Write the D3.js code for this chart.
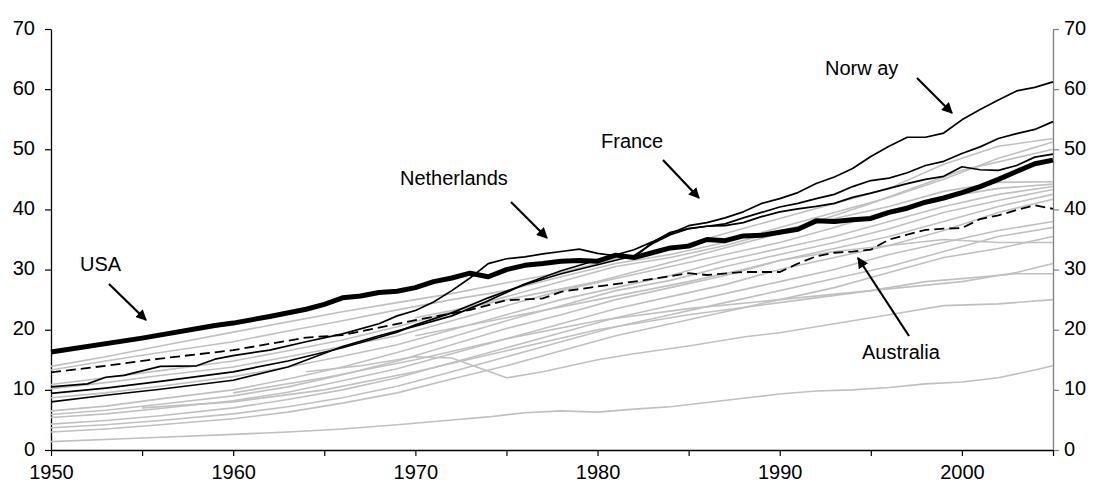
<!DOCTYPE html>
<html><head><meta charset="utf-8">
<script src="https://cdn.jsdelivr.net/npm/d3@7"></script>
<style>
body{margin:0;background:#fff}
text{font-family:"Liberation Sans",Arial,sans-serif}
</style>
</head><body>
<svg id="c" width="1094" height="489"></svg>
<script>
// ---- data (year, value) ----
const usa = [[1950,16.3],[1955,18.6],[1959,20.7],[1960,21.1],[1962,22.2],[1964,23.4],[1965,24.2],[1966,25.3],[1967,25.6],[1968,26.2],[1969,26.4],[1970,27],[1971,28],[1972,28.6],[1973,29.4],[1974,28.8],[1975,30],[1976,30.7],[1977,31],[1978,31.4],[1979,31.5],[1980,31.4],[1981,32.4],[1982,32],[1983,32.8],[1984,33.6],[1985,33.9],[1986,35],[1987,34.8],[1988,35.6],[1989,35.7],[1990,36.2],[1991,36.7],[1992,38.1],[1993,38],[1994,38.3],[1995,38.5],[1996,39.5],[1997,40.2],[1998,41.2],[1999,41.9],[2000,42.8],[2001,43.8],[2002,45],[2003,46.3],[2004,47.6],[2005,48.2]];
const netherlands = [[1950,10.5],[1952,11],[1953,12.1],[1954,12.4],[1956,13.9],[1958,14.0],[1959,15.1],[1960,15.7],[1962,16.6],[1964,18.0],[1966,19.3],[1968,21],[1969,22.3],[1970,23.2],[1971,24.6],[1972,26.5],[1973,28.6],[1974,31],[1975,31.8],[1976,32.1],[1977,32.6],[1978,33],[1979,33.4],[1980,32.7],[1981,32.3],[1982,32.0],[1983,34.5],[1984,36.2],[1985,36.8],[1986,37.2],[1987,37.3],[1988,37.8],[1989,38.8],[1990,39.6],[1991,40.1],[1992,40.5],[1993,41],[1994,42],[1995,42.7],[1996,43.5],[1997,44.3],[1998,45],[1999,45.5],[2000,47.1],[2001,46.6],[2002,46.5],[2003,47.3],[2004,48.7],[2005,49.2]];
const france = [[1950,9.4],[1953,10.3],[1956,11.4],[1960,13],[1963,14.8],[1966,17],[1969,19.6],[1970,20.8],[1972,22.8],[1974,25.3],[1976,27.5],[1978,29.3],[1980,30.8],[1982,32.3],[1983,34.3],[1984,35.8],[1985,36.8],[1986,37.2],[1987,37.6],[1988,38.6],[1989,39.5],[1990,40.4],[1991,41],[1992,41.8],[1993,42.5],[1994,43.8],[1995,44.8],[1996,45.2],[1997,46.1],[1998,47.3],[1999,48],[2000,49.3],[2001,50.4],[2002,51.8],[2003,52.6],[2004,53.3],[2005,54.6]];
const norway = [[1950,8.0],[1953,9.1],[1956,10.1],[1960,11.6],[1963,13.8],[1966,17.2],[1968,19],[1970,20.6],[1972,22.3],[1974,24.8],[1976,27.6],[1978,29.8],[1980,31.6],[1982,33.3],[1983,34.6],[1984,36],[1985,37.3],[1986,37.8],[1987,38.6],[1988,39.6],[1989,41],[1990,41.8],[1991,42.8],[1992,44.3],[1993,45.4],[1994,46.8],[1995,48.8],[1996,50.5],[1997,52],[1998,52],[1999,52.7],[2000,54.9],[2001,56.6],[2002,58.2],[2003,59.7],[2004,60.3],[2005,61.2]];
const australia = [[1950,12.9],[1953,14],[1956,15.2],[1960,16.6],[1964,18.7],[1966,19.1],[1970,21.6],[1972,22.7],[1973,23.3],[1975,24.9],[1977,25.2],[1978,26.3],[1980,27.2],[1982,28],[1984,28.9],[1985,29.4],[1986,29.1],[1988,29.6],[1990,29.6],[1991,31],[1992,32.2],[1993,32.8],[1994,33],[1995,33.3],[1996,35],[1997,35.8],[1998,36.6],[1999,36.8],[2000,36.9],[2001,38.4],[2002,39],[2003,39.9],[2004,40.7],[2005,40.1]];

const others = [
 [[1950,13.9],[1953,15.5],[1956,17.3],[1960,19.6],[1963,21.3],[1966,23],[1969,24.5],[1972,26],[1975,27.8],[1978,29.5],[1981,31.8],[1984,33.5],[1987,36],[1990,38.5],[1993,41],[1996,43.5],[1999,47.5],[2002,50.5],[2005,51.8]],
 [[1950,13.3],[1953,14.8],[1956,16.2],[1960,18],[1963,19.8],[1966,21.5],[1969,23.3],[1972,25],[1975,26.5],[1978,28.8],[1981,31],[1984,32.5],[1987,34.5],[1990,37],[1993,39.5],[1996,42],[1999,45],[2002,48.5],[2005,51.2]],
 [[1950,10.9],[1953,12],[1956,13.2],[1960,14.8],[1963,16.5],[1966,18.3],[1969,20.5],[1972,23],[1975,25.5],[1978,28],[1981,30.5],[1984,32],[1987,34],[1990,36.5],[1993,38.5],[1996,40.5],[1999,43],[2002,44.5],[2005,44.6]],
 [[1950,10.2],[1953,11.2],[1956,12.4],[1960,13.8],[1963,15.5],[1966,17.2],[1969,19],[1972,21.5],[1975,24],[1978,26.5],[1981,28.5],[1984,30.5],[1987,32.5],[1990,34.5],[1993,37],[1996,39.8],[1999,42],[2002,43.5],[2005,44.2]],
 [[1950,8.7],[1953,9.5],[1956,10.6],[1960,12.2],[1963,13.8],[1966,15.6],[1969,17.5],[1972,20],[1975,22.5],[1978,25],[1981,27],[1984,29],[1987,31.5],[1990,33.5],[1993,35.5],[1996,38],[1999,40.5],[2002,42.5],[2005,43.8]],
 [[1950,6.5],[1953,7.3],[1956,8.5],[1960,10],[1963,11.8],[1966,13.8],[1969,16.2],[1972,18.8],[1975,21.5],[1978,24],[1981,26.5],[1984,28.2],[1987,30.5],[1990,32.5],[1993,34.5],[1996,36.8],[1999,39.5],[2002,41.5],[2005,43.3]],
 [[1950,5.9],[1953,6.6],[1956,7.6],[1960,9],[1963,10.5],[1966,12.5],[1969,14.8],[1972,17.5],[1975,20.2],[1978,22.5],[1981,25],[1984,27],[1987,29],[1990,31.5],[1993,33.5],[1996,35.5],[1999,38],[2002,40.5],[2005,42.5]],
 [[1950,5.4],[1953,6],[1956,6.9],[1960,8.2],[1963,9.6],[1966,11.5],[1969,13.5],[1972,16],[1975,18.5],[1978,21],[1981,23.5],[1984,25.5],[1987,27.5],[1990,30],[1993,32],[1996,34],[1999,36.5],[2002,39.5],[2005,41.7]],
 [[1950,4.3],[1953,4.9],[1956,5.7],[1960,7],[1963,8.4],[1966,10],[1969,12],[1972,14.5],[1975,17],[1978,19.5],[1981,22],[1984,24],[1987,26],[1990,28],[1993,30],[1996,32.5],[1999,34.5],[2002,36.5],[2005,38]],
 [[1950,3.7],[1953,4.2],[1956,4.9],[1960,6],[1963,7.2],[1966,8.7],[1969,10.6],[1972,13],[1975,15.5],[1978,18],[1981,20.5],[1984,22.5],[1987,24.5],[1990,26.5],[1993,28.5],[1996,30.5],[1999,33],[2002,35.5],[2005,37]],
 [[1950,3.0],[1953,3.5],[1956,4.2],[1960,5.2],[1963,6.3],[1966,7.8],[1969,9.5],[1972,11.8],[1975,14],[1978,16.5],[1981,19],[1984,21],[1987,23],[1990,25],[1993,27],[1996,29.5],[1999,32],[2002,33.5],[2005,35.5]],
 [[1950,1.4],[1955,2],[1960,2.6],[1963,3],[1966,3.5],[1969,4.2],[1972,5],[1974,5.5],[1976,6.2],[1978,6.5],[1980,6.3],[1982,6.8],[1984,7.2],[1986,7.9],[1988,8.6],[1990,9.3],[1992,9.8],[1994,10],[1996,10.4],[1998,11],[2000,11.3],[2002,12],[2004,13.3],[2005,14]],
 [[1964,13],[1967,14],[1970,15.5],[1972,15.3],[1975,12],[1977,13],[1980,15],[1982,16],[1985,17.3],[1988,18.8],[1990,19.5],[1993,21],[1996,22.5],[1999,24],[2002,24.3],[2005,25]],
 [[1955,7],[1960,8],[1965,10],[1970,13],[1975,16.5],[1980,20],[1985,22.5],[1990,24.5],[1995,26.5],[1998,28],[2000,28.5],[2003,29.3],[2005,29.3]],
 [[1960,9.5],[1965,12],[1970,15],[1975,18.5],[1980,21.5],[1985,23.5],[1990,25],[1995,26.5],[2000,28],[2003,29.5],[2005,31]],
 [[1970,19],[1975,22],[1980,25],[1985,28],[1988,30],[1990,31.5],[1993,33],[1996,34],[1999,35],[2002,34.5],[2005,34.5]],
 [[1970,22],[1975,25],[1980,28],[1985,32],[1990,36],[1995,41],[2000,46.5],[2005,50]]
];

const yTicks = [0,10,20,30,40,50,60,70];
const xTicks = [1950,1955,1960,1965,1970,1975,1980,1985,1990,1995,2000,2005];
const xLabels = [1950,1960,1970,1980,1990,2000];

// ---- drawing ----
const svg = d3.select("#c");
const x = d3.scaleLinear().domain([1950,2005]).range([51,1053]);
const y = d3.scaleLinear().domain([0,70]).range([450,29]);
const line = d3.line().x(d=>x(d[0])).y(d=>y(d[1]));

const defs = svg.append("defs");
defs.append("marker").attr("id","ah").attr("viewBox","0 0 10 10").attr("refX",9).attr("refY",5)
  .attr("markerWidth",5).attr("markerHeight",5).attr("markerUnits","strokeWidth").attr("orient","auto")
  .append("path").attr("d","M0,0 L10,5 L0,10 z").attr("fill","#000");

// axes
const fs = "20px";
const gL = svg.append("g").attr("transform","translate(51,0)")
  .call(d3.axisLeft(y).tickValues(yTicks).tickSize(6).tickSizeOuter(0).tickPadding(10).tickFormat(d3.format("d")));
const gR = svg.append("g").attr("transform","translate(1053,0)")
  .call(d3.axisRight(y).tickValues(yTicks).tickSize(6).tickSizeOuter(0).tickPadding(5).tickFormat(d3.format("d")));
const gB = svg.append("g").attr("transform","translate(0,450)")
  .call(d3.axisBottom(x).tickValues(xTicks).tickSize(6).tickSizeOuter(0).tickPadding(9)
    .tickFormat(d => xLabels.includes(d) ? String(d) : ""));
[gL,gR,gB].forEach(g=>{
  g.selectAll("text").attr("font-size",fs).attr("fill","#000").attr("font-family","Liberation Sans, Arial, sans-serif");
  g.select(".domain").attr("stroke","#000").attr("stroke-width",1.3);
  g.selectAll(".tick line").attr("stroke","#000").attr("stroke-width",1.2);
});
gR.select(".domain").attr("stroke","#808080");
gR.selectAll(".tick line").attr("stroke","#808080");
gL.selectAll("text").attr("dy","0.25em");
gR.selectAll("text").attr("dy","0.25em");

// lines
const plot = svg.append("g");
plot.selectAll(".g").data(others).join("path").attr("d",line)
  .attr("fill","none").attr("stroke","#c0c0c0").attr("stroke-width",1.6).attr("stroke-linejoin","round");
[netherlands, france, norway].forEach(s=>{
  plot.append("path").attr("d",line(s)).attr("fill","none").attr("stroke","#000").attr("stroke-width",1.7).attr("stroke-linejoin","round");
});
plot.append("path").attr("d",line(australia)).attr("fill","none").attr("stroke","#000")
  .attr("stroke-width",1.8).attr("stroke-dasharray","10,5");
plot.append("path").attr("d",line(usa)).attr("fill","none").attr("stroke","#000")
  .attr("stroke-width",5).attr("stroke-linejoin","round");

// annotations (pixel layout)
const ann = svg.append("g");
function label(t,px,py){ ann.append("text").attr("x",px).attr("y",py).attr("font-size",fs).attr("fill","#000").text(t); }
function arrow(x1,y1,x2,y2){ ann.append("line").attr("x1",x1).attr("y1",y1).attr("x2",x2).attr("y2",y2)
  .attr("stroke","#000").attr("stroke-width",2.2).attr("marker-end","url(#ah)"); }
label("USA",80,271); arrow(109,284,146,320);
label("Netherlands",400,185); arrow(511,202,547,238);
label("France",601,148); arrow(663,160,699,198);
label("Norw ay",825,75); arrow(917,78,952,113);
label("Australia",862,359); arrow(909,336,858,258);
</script>
</body></html>
